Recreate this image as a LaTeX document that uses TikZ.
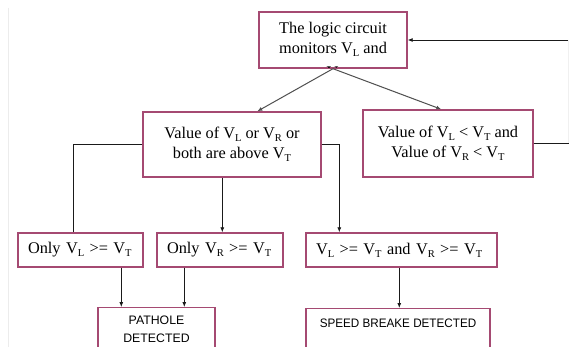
\documentclass[tikz,border=0pt]{standalone}
\usepackage{fontspec}
\setmainfont{Liberation Serif}
\newfontfamily\arialf{Liberation Sans}
\usetikzlibrary{arrows.meta,calc}
\definecolor{boxc}{HTML}{A54A72}
\definecolor{linec}{HTML}{1A1A1A}
\definecolor{linec2}{HTML}{505050}
\newcommand\sbs[1]{\raisebox{-0.18em}{\fontsize{10.5}{11}\selectfont #1}}
\newcommand\VV[1]{V\sbs{#1}}
\begin{document}
\begin{tikzpicture}[x=1pt,y=-1pt,
  bx/.style={draw=boxc,line width=1.4pt,inner sep=0pt,font=\fontsize{16.3}{20}\selectfont,align=center},
  lbx/.style={bx,align=left,inner xsep=10pt,text width=#1},
  sbx/.style={draw=boxc,line width=1.4pt,font=\arialf\fontsize{12.3}{18}\selectfont,align=center,anchor=north,inner sep=0pt},
  conn/.style={draw=linec,line width=0.8pt},
  arr/.style={conn,-{Latex[length=5pt,width=4pt]}},
  arr2/.style={arr,draw=linec2,line width=1pt}]
\path[use as bounding box,fill=white] (0,0) rectangle (569,347);
\clip (0,0) rectangle (569,347);
\draw[gray!15,line width=0.8pt] (8.5,8) -- (8.5,347);
% nodes
\node[bx,minimum width=148,minimum height=56,text depth=4pt] (top) at (333,40) {The logic circuit\\monitors \VV{L} and};
\begin{scope}
  \clip (259,12) rectangle (407,67.6);
  \node[font=\fontsize{16.3}{20}\selectfont,anchor=base,inner sep=0pt] (vr) at (336,77.3) {\VV{R}};
\end{scope}
\node[bx,minimum width=178,minimum height=65] (lb) at (232,144.5) {Value of \VV{L} or \VV{R} or\\both are above \VV{T}};
\node[bx,minimum width=170,minimum height=67] (lt) at (448,143.5) {Value of \VV{L} < \VV{T} and\\Value of \VV{R} < \VV{T}};
\node[lbx=105pt,minimum height=34] (b1) at (80.5,250) {Only \VV{L} >= \VV{T}};
\node[lbx=106pt,minimum height=34] (b2) at (220,250) {Only \VV{R} >= \VV{T}};
\node[lbx=171pt,minimum height=34] (b3) at (401.5,250) {\VV{L} >= \VV{T} and \VV{R} >= \VV{T}};
\node[sbx,minimum width=117,minimum height=44] (pat) at (156.5,307) {PATHOLE\\DETECTED};
\node[sbx,minimum width=184,inner ysep=10pt,text height=9pt,text depth=30pt] (spd) at (398,308) {\scalebox{0.95}[1]{SPEED BREAKE DETECTED}};
% connectors
\coordinate (er1) at (568.5,40);
\coordinate (er2) at (568.5,143.5);
\draw[arr2] (top.south) -- ($(lb.north west)+(115,0)$);
\draw[arr2] (top.south) -- ($(lt.north west)+(79,0)$);
\draw[arr] (er1) -- (top.east);
\draw[conn] (lt.east) -- (er2);
\draw[gray!12,line width=0.5pt] (er1) -- (er2);
\draw[conn] (lb.west) -| ($(b1.north west)+(56,0)$);
\draw[arr] ($(lb.south west)+(80,0)$) -- ($(b2.north west)+(66,0)$);
\draw[arr] (lb.east) -| ($(b3.north west)+(34,0)$);
\draw[arr] ($(b1.south west)+(104,0)$) -- ($(pat.north west)+(24,0)$);
\draw[arr] ($(b2.south west)+(28,0)$) -- ($(pat.north west)+(87,0)$);
\draw[arr] ($(b3.south west)+(94,0)$) -- ($(spd.north west)+(94,0)$);
\end{tikzpicture}
\end{document}
